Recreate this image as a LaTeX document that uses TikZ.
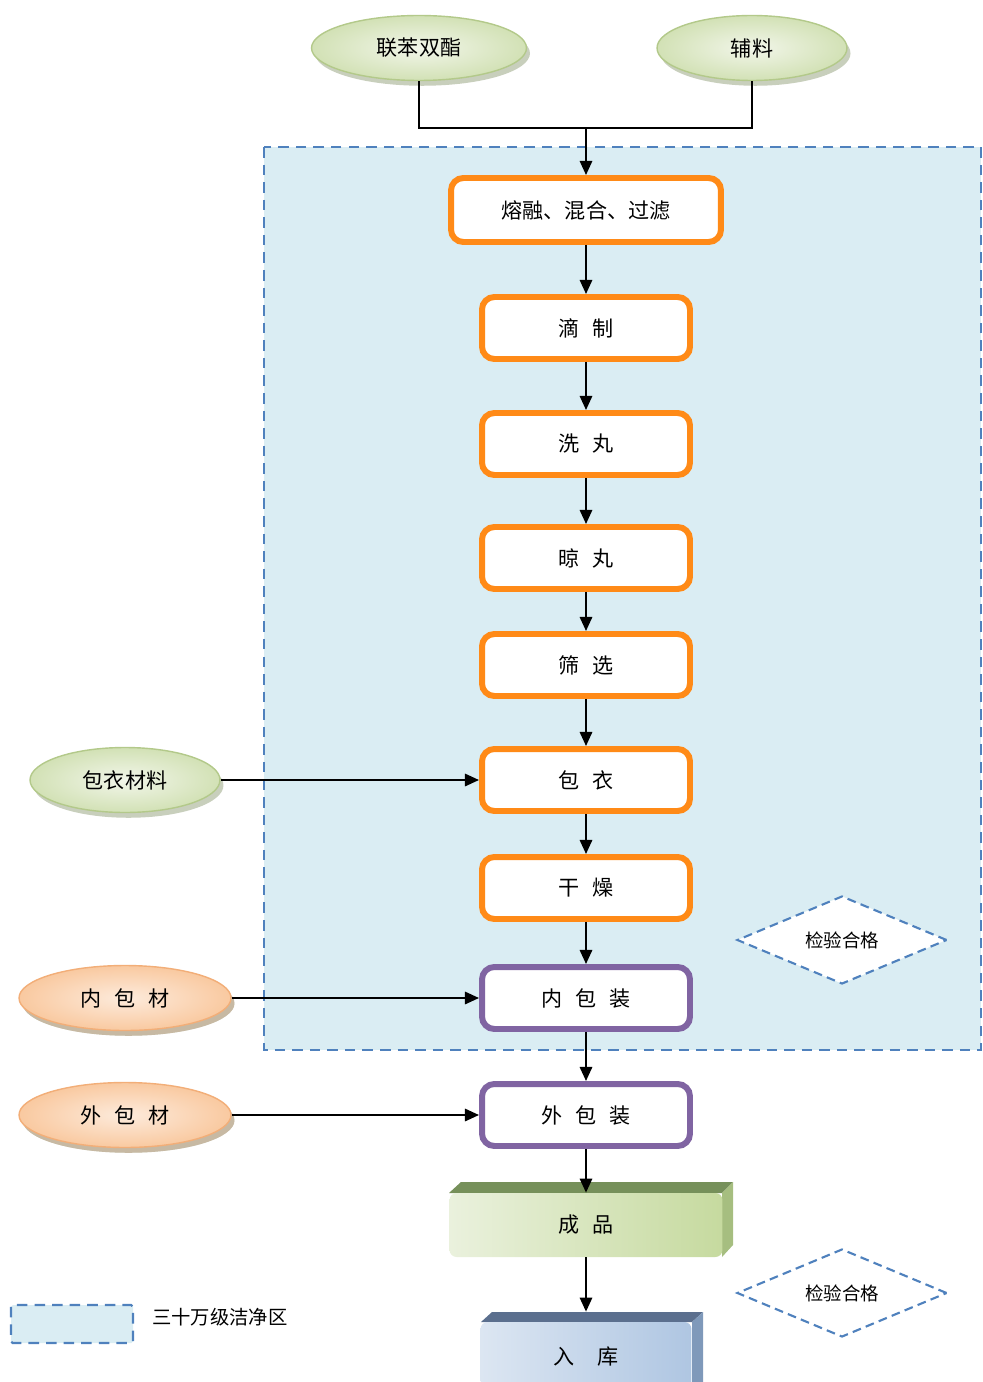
\documentclass[tikz,border=0pt]{standalone}
\usepackage{fontspec}
\setmainfont{Noto Sans CJK SC}
\usetikzlibrary{shapes.geometric,shadows,arrows.meta}

\definecolor{zonefill}{HTML}{DAEDF3}
\definecolor{zoneline}{HTML}{4F81BD}
\definecolor{steporange}{HTML}{FF8A17}
\definecolor{packpurple}{HTML}{8064A2}
\definecolor{rawin}{HTML}{F2F6EA}
\definecolor{rawout}{HTML}{D2E1B5}
\definecolor{rawline}{HTML}{B3C98A}
\definecolor{matin}{HTML}{FDEBDC}
\definecolor{matout}{HTML}{F9C9A0}
\definecolor{matline}{HTML}{F2AE78}
\definecolor{prodtop}{HTML}{76905A}
\definecolor{prodside}{HTML}{A6BE80}
\definecolor{prodleft}{HTML}{EAF1DD}
\definecolor{prodright}{HTML}{C6DA9F}
\definecolor{storetop}{HTML}{5B6F8E}
\definecolor{storeside}{HTML}{7F99BA}
\definecolor{storeleft}{HTML}{DCE6F2}
\definecolor{storeright}{HTML}{AFC6E2}

\newcommand{\csp}{\hspace{0.6em}}

\begin{document}
\begin{tikzpicture}[x=0.02cm, y=-0.02cm,
        zone/.style={draw=zoneline, fill=zonefill, line width=1.2pt, dash pattern=on 6pt off 4pt},
        stage/.style={rectangle, rounded corners=7pt, draw=steporange, line width=3.4pt, fill=white,
            minimum width=4.16cm, minimum height=1.24cm, font=\fontsize{12}{14}\selectfont},
        pack/.style={stage, draw=packpurple},
        raw/.style={ellipse, draw=rawline, line width=0.8pt, inner color=rawin, outer color=rawout,
            minimum width=3.8cm, minimum height=1.3cm, font=\fontsize{12}{14}\selectfont,
            drop shadow={shadow xshift=2pt, shadow yshift=-3pt, fill=rawout!60!gray, opacity=0.7}},
        mat/.style={raw, draw=matline, inner color=matin, outer color=matout,
            drop shadow={shadow xshift=2pt, shadow yshift=-3pt, fill=matout!60!gray, opacity=0.6}},
        check/.style={diamond, aspect=2.4, draw=zoneline, dash pattern=on 5pt off 3pt, line width=1.2pt,
            fill=white, inner sep=0pt, minimum width=4.2cm, minimum height=1.76cm,
            font=\fontsize{10.5}{12}\selectfont},
        slab/.style={rectangle, rounded corners=4pt, shading=axis, shading angle=60,
            font=\fontsize{12}{14}\selectfont},
        line/.style={draw, line width=1.2pt, ->, >={Triangle[length=8pt, width=7pt]}}
    ]
        \useasboundingbox (0,0) rectangle (983,1382);

        % clean zone
        \draw[zone] (264,147) rectangle (981,1050);

        \node[raw, minimum width=4.3cm] (biphenyl) at (419,48) {联苯双酯};
        \node[raw] (aux) at (752,48) {辅料};
        \coordinate (merge) at (586,128);

        \node[stage, minimum width=5.4cm, minimum height=1.28cm] (melt) at (586,210) {熔融、混合、过滤};
        \node[stage] (drip) at (586,328) {滴\csp 制};
        \node[stage] (wash) at (586,444) {洗\csp 丸};
        \node[stage] (air) at (586,558) {晾\csp 丸};
        \node[stage] (sieve) at (586,665) {筛\csp 选};
        \node[stage] (coat) at (586,780) {包\csp 衣};
        \node[stage] (dry) at (586,888) {干\csp 燥};
        \node[pack] (inner) at (586,998) {内\csp 包\csp 装};
        \node[pack] (outer) at (586,1115) {外\csp 包\csp 装};

        \node[raw] (coatmat) at (125,780) {包衣材料};
        \node[mat, minimum width=4.24cm] (innermat) at (125,998) {内\csp 包\csp 材};
        \node[mat, minimum width=4.24cm] (outermat) at (125,1115) {外\csp 包\csp 材};

        \node[check] (check1) at (842,940) {检验合格};
        \node[check] (check2) at (842,1293) {检验合格};

        % finished goods block
        \fill[prodtop] (449,1193) -- (461,1182) -- (733,1182) -- (722,1193) -- cycle;
        \fill[prodside] (722,1193) -- (733,1182) -- (733,1245) -- (722,1257) -- cycle;
        \node[slab, left color=prodleft, right color=prodright, minimum width=5.46cm, minimum height=1.28cm] (goods) at (586,1225) {成\csp 品};

        % store block
        \fill[storetop] (481,1322) -- (492,1312) -- (703,1312) -- (692,1322) -- cycle;
        \fill[storeside] (692,1322) -- (703,1312) -- (703,1382) -- (692,1392) -- cycle;
        \node[slab, left color=storeleft, right color=storeright, minimum width=4.22cm, minimum height=1.4cm] (store) at (586,1357) {入\hspace{1.1em}库};

        % legend
        \draw[zone, rounded corners=1pt] (11,1305) rectangle (133,1343);
        \node[anchor=west, font=\fontsize{11}{13}\selectfont] (legend) at (146,1317) {三十万级洁净区};

        \draw[line width=1.2pt] (biphenyl.south) |- (merge) -| (aux.south);
        \draw[line] (merge) -- (melt);
        \draw[line] (melt) -- (drip);
        \draw[line] (drip) -- (wash);
        \draw[line] (wash) -- (air);
        \draw[line] (air) -- (sieve);
        \draw[line] (sieve) -- (coat);
        \draw[line] (coat) -- (dry);
        \draw[line] (dry) -- (inner);
        \draw[line] (inner) -- (outer);
        \draw[line] (outer) -- (goods);
        \draw[line, shorten >=0.2cm] (goods) -- (store);

        \draw[line] (coatmat) -- (coat);
        \draw[line] (innermat) -- (inner);
        \draw[line] (outermat) -- (outer);
    \end{tikzpicture}
\end{document}
